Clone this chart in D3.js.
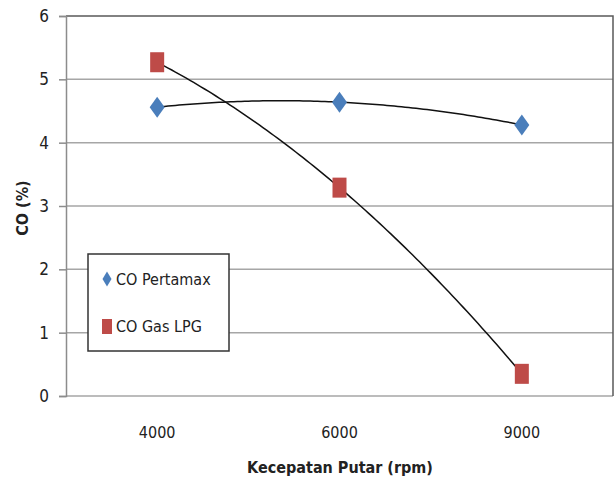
<!DOCTYPE html>
<html>
<head>
<meta charset="utf-8">
<script src="https://cdn.jsdelivr.net/npm/d3@7"></script>
<style>
  html, body { margin: 0; padding: 0; background: #fff; }
  svg text { font-family: "Liberation Sans Narrow", "DejaVu Sans Condensed", "Arial Narrow", sans-serif; fill: #222; }
</style>
</head>
<body>
<svg id="chart" width="614" height="486"></svg>
<script>
// Engine speed categories and CO readings
const categories = ["4000", "6000", "9000"];
const pertamax = [4.56, 4.64, 4.28];
const lpg = [5.27, 3.29, 0.35];
const yTicks = [0, 1, 2, 3, 4, 5, 6];
const seriesNames = ["CO Pertamax", "CO Gas LPG"];

const svg = d3.select("#chart");
const m = { left: 66, right: 613, top: 16, bottom: 396 };

const x = d3.scalePoint().domain(categories).range([m.left, m.right]).padding(0.5);
const y = d3.scaleLinear().domain([0, 6]).range([m.bottom, m.top]);

// horizontal gridlines
svg.append("g").selectAll("line").data(yTicks.filter(d => d > 0 && d < 6)).join("line")
  .attr("x1", m.left).attr("x2", m.right)
  .attr("y1", d => y(d)).attr("y2", d => y(d))
  .attr("stroke", "#a6a6a6").attr("stroke-width", 1.5);

// bottom baseline
svg.append("line").attr("x1", m.left).attr("x2", m.right)
  .attr("y1", y(0)).attr("y2", y(0))
  .attr("stroke", "#a6a6a6").attr("stroke-width", 1.5);

// top and right frame of the plot area
svg.append("path")
  .attr("d", `M${m.left},${y(6)}H${m.right}V${y(0)}`)
  .attr("fill", "none").attr("stroke", "#5a5a5a").attr("stroke-width", 1.5);

// y axis
const yAxis = svg.append("g").attr("transform", `translate(${m.left},0)`)
  .call(d3.axisLeft(y).tickValues(yTicks).tickFormat(d3.format("d")).tickSize(7).tickPadding(10));
yAxis.select(".domain").attr("stroke", "#8c8c8c").attr("stroke-width", 1.5);
yAxis.selectAll(".tick line").attr("stroke", "#8c8c8c").attr("stroke-width", 1.5);
yAxis.selectAll(".tick text").attr("font-size", 17).attr("fill", "#222")
  .style("font-family", '"Liberation Sans Narrow", "DejaVu Sans Condensed", sans-serif');

// x category labels
svg.append("g").selectAll("text").data(categories).join("text")
  .attr("x", d => x(d)).attr("y", 438)
  .attr("text-anchor", "middle").attr("font-size", 16)
  .text(d => d);

// axis titles
svg.append("text").attr("x", 340).attr("y", 473)
  .attr("text-anchor", "middle").attr("font-size", 16).attr("font-weight", "bold")
  .text("Kecepatan Putar (rpm)");
svg.append("text")
  .attr("transform", `translate(28,${208}) rotate(-90)`)
  .attr("text-anchor", "middle").attr("font-size", 16).attr("font-weight", "bold")
  .text("CO (%)");

// second-order polynomial trendline through the category index positions
function polyFit(vals) {
  // exact quadratic through (1,v0),(2,v1),(3,v2)
  const [a, b, c] = vals;
  const k2 = (a - 2 * b + c) / 2;
  const k1 = (b - a) - 3 * k2;
  const k0 = a - k1 - k2;
  return t => k0 + k1 * t + k2 * t * t;
}
const step = x.step();
function trend(vals) {
  const f = polyFit(vals);
  const pts = d3.range(1, 3.0001, 0.02).map(t => [x(categories[0]) + (t - 1) * step, y(f(t))]);
  return d3.line()(pts);
}
svg.append("path").attr("d", trend(pertamax)).attr("fill", "none")
  .attr("stroke", "#111").attr("stroke-width", 1.5);
svg.append("path").attr("d", trend(lpg)).attr("fill", "none")
  .attr("stroke", "#111").attr("stroke-width", 1.5);

// markers
const blue = "#4a7ebb", red = "#be4b48";
const diamond = (w, h) => `M0,${-h / 2}L${w / 2},0L0,${h / 2}L${-w / 2},0Z`;
svg.append("g").selectAll("path").data(pertamax).join("path")
  .attr("transform", (d, i) => `translate(${x(categories[i])},${y(d)})`)
  .attr("d", diamond(15, 21)).attr("fill", blue);
svg.append("g").selectAll("rect").data(lpg).join("rect")
  .attr("x", (d, i) => x(categories[i]) - 7).attr("y", d => y(d) - 10)
  .attr("width", 14).attr("height", 20).attr("fill", red);

// legend
const lg = svg.append("g");
lg.append("rect").attr("x", 88).attr("y", 254).attr("width", 141).attr("height", 97)
  .attr("fill", "#fff").attr("stroke", "#333").attr("stroke-width", 1.5);
lg.append("path").attr("transform", "translate(107,279)").attr("d", diamond(9, 15)).attr("fill", blue);
lg.append("rect").attr("x", 102).attr("y", 319).attr("width", 10).attr("height", 15).attr("fill", red);
lg.selectAll("text.lbl").data(seriesNames).join("text").attr("class", "lbl")
  .attr("x", 116).attr("y", (d, i) => 285 + i * 47)
  .attr("font-size", 16).text(d => d);
</script>
</body>
</html>
